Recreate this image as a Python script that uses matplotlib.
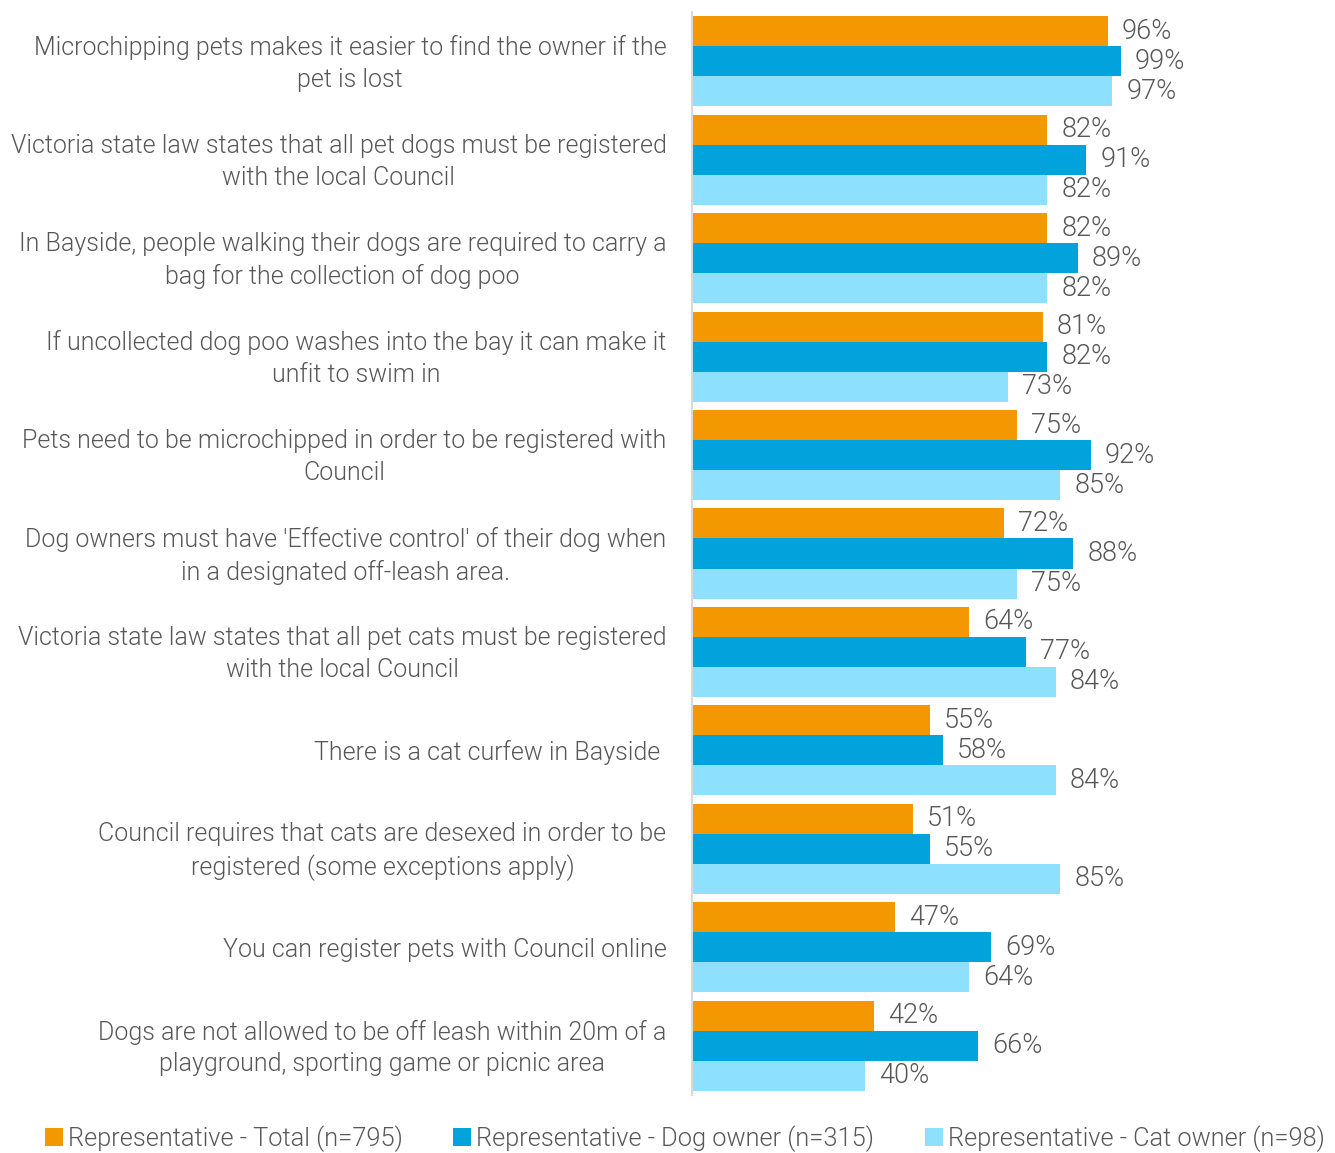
import numpy as np
import matplotlib
matplotlib.use("Agg")
import matplotlib.pyplot as plt
from matplotlib.transforms import ScaledTranslation

plt.rcParams['font.family'] = ['Roboto', 'DejaVu Sans']
plt.rcParams['font.weight'] = 300

# --- data -------------------------------------------------------------------
statements = [
    "Microchipping pets makes it easier to find the owner if the\npet is lost",
    "Victoria state law states that all pet dogs must be registered\nwith the local Council",
    "In Bayside, people walking their dogs are required to carry a\nbag for the collection of dog poo",
    "If uncollected dog poo washes into the bay it can make it\nunfit to swim in",
    "Pets need to be microchipped in order to be registered with\nCouncil",
    "Dog owners must have 'Effective control' of their dog when\nin a designated off-leash area.",
    "Victoria state law states that all pet cats must be registered\nwith the local Council",
    "There is a cat curfew in Bayside ",
    "Council requires that cats are desexed in order to be\nregistered (some exceptions apply)",
    "You can register pets with Council online",
    "Dogs are not allowed to be off leash within 20m of a\nplayground, sporting game or picnic area",
]
total = [96, 82, 82, 81, 75, 72, 64, 55, 51, 47, 42]
dog_owner = [99, 91, 89, 82, 92, 88, 77, 58, 55, 69, 66]
cat_owner = [97, 82, 82, 73, 85, 75, 84, 84, 85, 64, 40]

series_names = [
    "Representative - Total (n=795)",
    "Representative - Dog owner (n=315)",
    "Representative - Cat owner (n=98)",
]
colors = ["#F39800", "#02A3DC", "#8EE0FF"]
text_col = "#575757"

# --- figure -----------------------------------------------------------------
fig = plt.figure(figsize=(13.35, 11.53), dpi=100)
ax = fig.add_axes([0.518, 0.0503, 0.325, 0.9393])

y = np.arange(len(statements))
h = 0.305
for k, (vals, col, name) in enumerate(zip([total, dog_owner, cat_owner], colors, series_names)):
    pos = y + (k - 1) * h
    ax.barh(pos, vals, height=h, color=col, label=name)
    for p, v in zip(pos, vals):
        ax.annotate(f"{v}%", xy=(v, p), xytext=(10, 0), textcoords="offset points",
                    va="center", ha="left", fontsize=19.5, color=text_col)

ax.set_xlim(0, 100)
ax.set_ylim(10.5, -0.5)
ax.set_xticks([])
ax.set_yticks(y)
ax.set_yticklabels(statements, fontsize=18, color=text_col,
                   multialignment="center", linespacing=1.4)
ax.tick_params(axis="y", length=0, pad=18)

# two-line labels sit a little low; nudge them up to centre on the bar group
nudge = ScaledTranslation(0, 3 / 72, fig.dpi_scale_trans)
for lab in ax.get_yticklabels():
    if "\n" in lab.get_text():
        lab.set_transform(lab.get_transform() + nudge)

for s in ["top", "right", "bottom"]:
    ax.spines[s].set_visible(False)
ax.spines["left"].set_color("#D9D9D9")
ax.spines["left"].set_linewidth(1.5)

fig.legend(loc="lower center", bbox_to_anchor=(0.513, -0.019), ncol=3, frameon=False,
           fontsize=18.3, handlelength=0.7, handleheight=0.7, handletextpad=0.2,
           columnspacing=2.0, labelcolor=text_col)

fig.savefig("out.png", dpi=100)
